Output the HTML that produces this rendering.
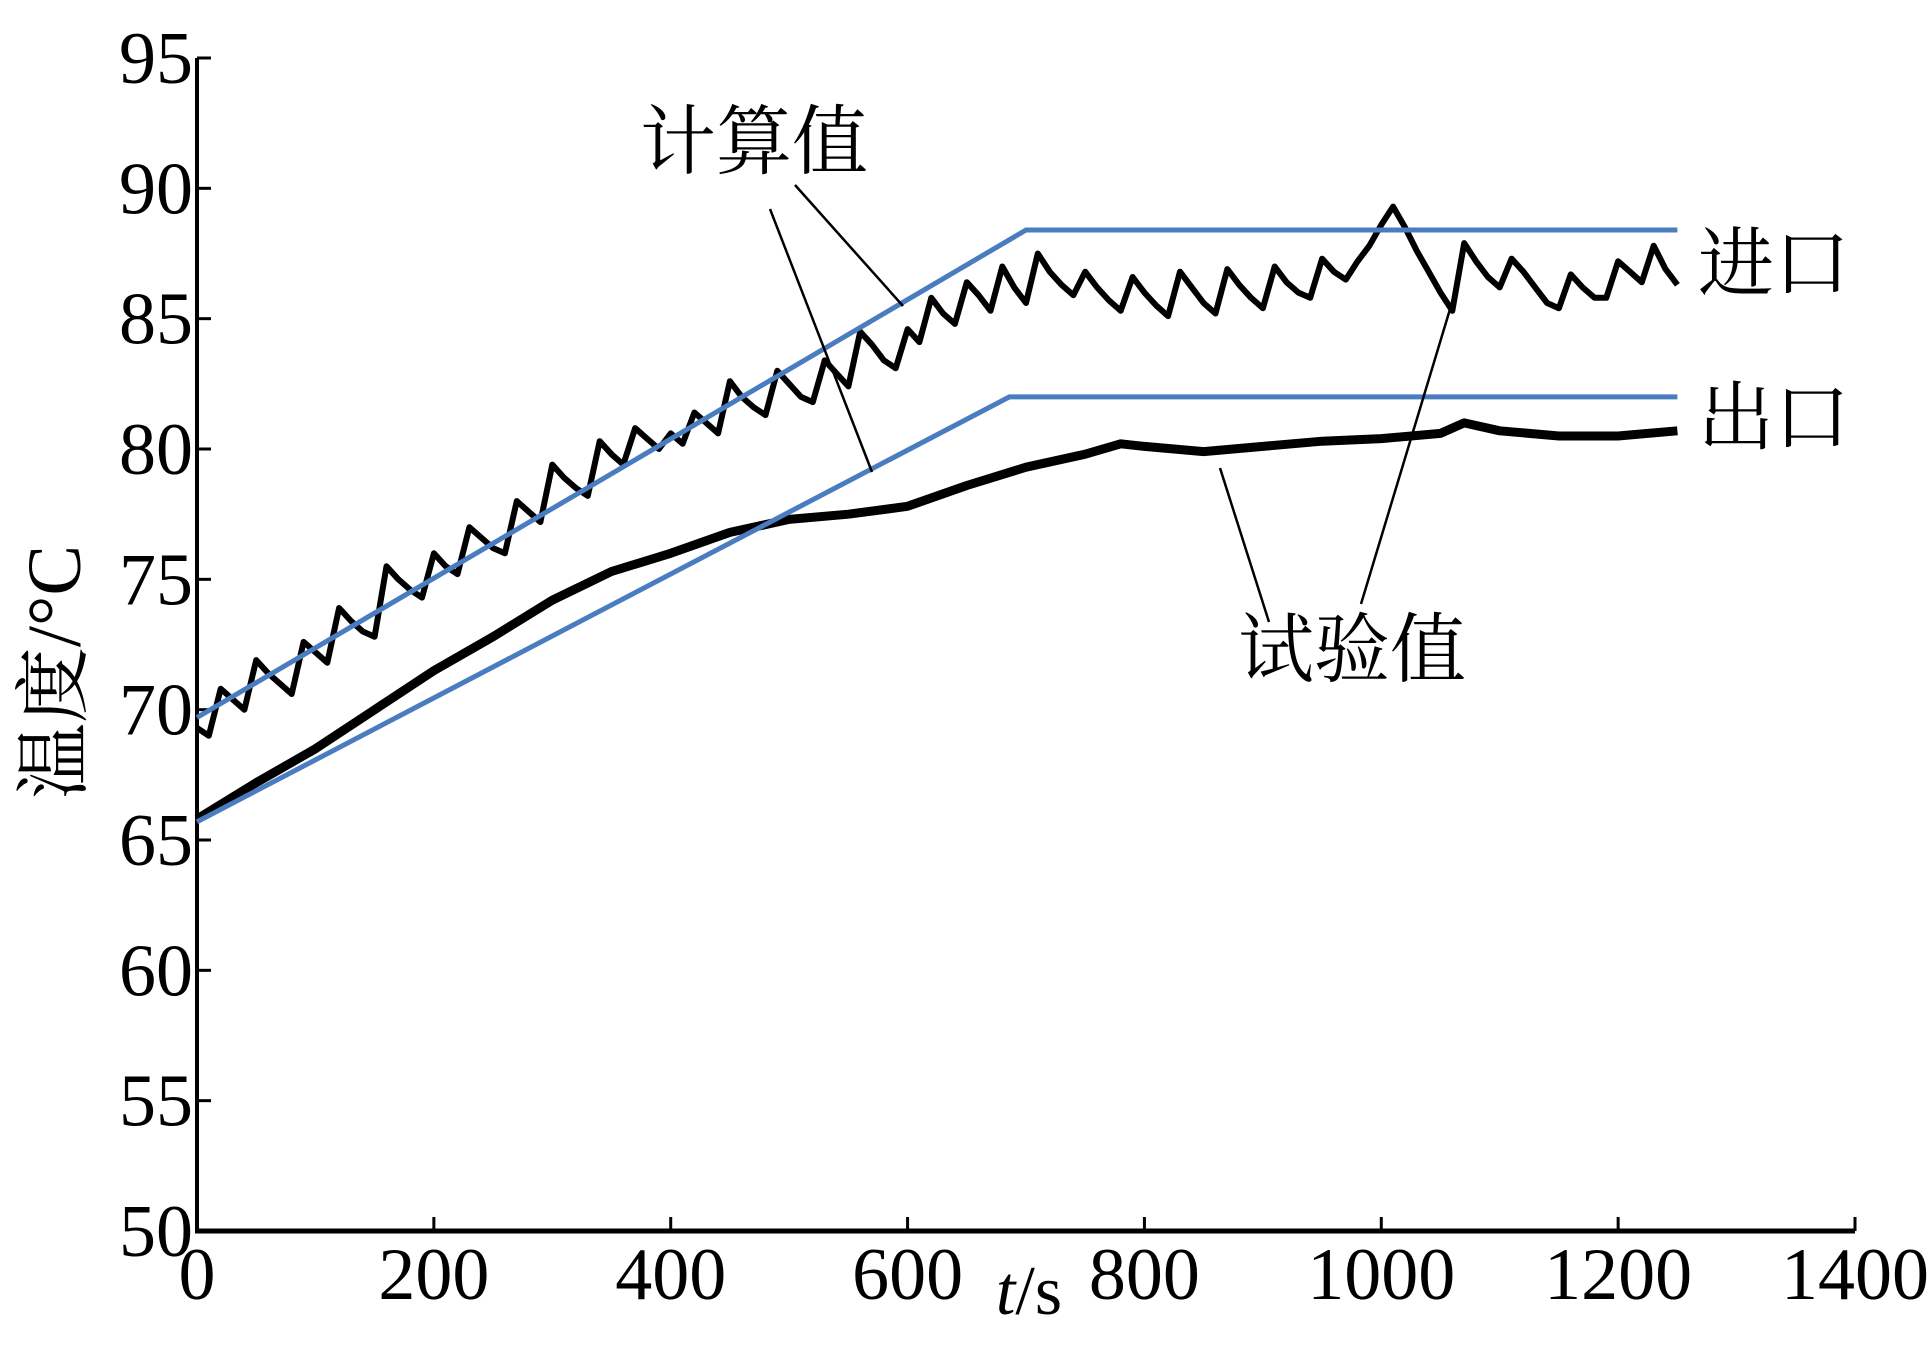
<!DOCTYPE html>
<html><head><meta charset="utf-8"><style>
html,body{margin:0;padding:0;background:#fff;}
svg{display:block;}
text{font-family:"Liberation Serif","Noto Serif CJK SC",serif;fill:#000;}
</style></head><body>
<svg id="chart" width="1932" height="1368" viewBox="0 0 1932 1368" xmlns="http://www.w3.org/2000/svg">
<g id="axes"></g>
<g id="series"></g>
<g id="notes"></g>
</svg>
<script>
const xTicks=[0,200,400,600,800,1000,1200,1400];
const yTicks=[50,55,60,65,70,75,80,85,90,95];
const calcInletT=[0,700,1250];
const calcInletV=[69.7,88.4,88.4];
const calcOutletT=[0,686,1250];
const calcOutletV=[65.7,82.0,82.0];
const testInletT=[0,10,20,30,40,50,60,70,80,90,100,110,120,130,140,150,160,170,180,190,200,210,220,230,240,250,260,270,280,290,300,310,320,330,340,350,360,370,380,390,400,410,420,430,440,450,460,470,480,490,500,510,520,530,540,550,560,570,580,590,600,610,620,630,640,650,660,670,680,690,700,710,720,730,740,750,760,770,780,790,800,810,820,830,840,850,860,870,880,890,900,910,920,930,940,950,960,970,980,990,1000,1010,1020,1030,1040,1050,1060,1070,1080,1090,1100,1110,1120,1130,1140,1150,1160,1170,1180,1190,1200,1210,1220,1230,1240,1250];
const testInletV=[69.3,69.0,70.8,70.4,70.0,71.9,71.4,71.0,70.6,72.6,72.2,71.8,73.9,73.4,73.0,72.8,75.5,75.0,74.6,74.3,76.0,75.5,75.2,77.0,76.6,76.2,76.0,78.0,77.6,77.2,79.4,78.9,78.5,78.2,80.3,79.8,79.4,80.8,80.4,80.0,80.6,80.2,81.4,81.0,80.6,82.6,82.0,81.6,81.3,83.0,82.5,82.0,81.8,83.4,82.9,82.4,84.5,84.0,83.4,83.1,84.6,84.1,85.8,85.2,84.8,86.4,85.9,85.3,87.0,86.2,85.6,87.5,86.8,86.3,85.9,86.8,86.2,85.7,85.3,86.6,86.0,85.5,85.1,86.8,86.2,85.6,85.2,86.9,86.3,85.8,85.4,87.0,86.4,86.0,85.8,87.3,86.8,86.5,87.2,87.8,88.6,89.3,88.5,87.6,86.8,86.0,85.3,87.9,87.2,86.6,86.2,87.3,86.8,86.2,85.6,85.4,86.7,86.2,85.8,85.8,87.2,86.8,86.4,87.8,86.9,86.3];
const testOutletT=[0,50,100,150,200,250,300,350,400,450,500,550,600,650,700,750,780,800,850,900,950,1000,1050,1070,1100,1150,1200,1250];
const testOutletV=[65.8,67.2,68.5,70.0,71.5,72.8,74.2,75.3,76.0,76.8,77.3,77.5,77.8,78.6,79.3,79.8,80.2,80.1,79.9,80.1,80.3,80.4,80.6,81.0,80.7,80.5,80.5,80.7];

const X0=197,X1=1855,Y0=1231,Y1=58;
const sx=t=>X0+(t-0)/(1400-0)*(X1-X0);
const sy=v=>Y0-(v-50)/(95-50)*(Y0-Y1);
const NS='http://www.w3.org/2000/svg';
function mk(tag,attrs,parent){const e=document.createElementNS(NS,tag);for(const k in attrs)e.setAttribute(k,attrs[k]);parent.appendChild(e);return e;}
const axes=document.getElementById('axes'),series=document.getElementById('series'),notes=document.getElementById('notes');

let e=mk('line',{x1:X0,y1:Y1,x2:X0,y2:Y0+2,stroke:'#000','stroke-width':4},axes);

e=mk('line',{x1:X0-2,y1:Y0,x2:X1,y2:Y0,stroke:'#000','stroke-width':5},axes);

xTicks.forEach(t=>{
 let tk=mk('line',{x1:sx(t),y1:Y0,x2:sx(t),y2:Y0-14,stroke:'#000','stroke-width':3},axes);
 
 let lb=mk('text',{x:sx(t),y:Y0+68,'text-anchor':'middle','font-size':74},axes);
 lb.textContent=t;
 
});
yTicks.forEach(v=>{
 let tk=mk('line',{x1:X0,y1:sy(v),x2:X0+14,y2:sy(v),stroke:'#000','stroke-width':3},axes);
 
 let lb=mk('text',{x:X0-4,y:sy(v)+25,'text-anchor':'end','font-size':74},axes);
 lb.textContent=v;
 
});
let xl=mk('text',{x:1029,y:1314,'text-anchor':'middle','font-size':70},axes);
xl.innerHTML='<tspan font-style="italic">t</tspan>/s';

let yl=mk('text',{x:0,y:0,'text-anchor':'middle','font-size':76,transform:'translate(80,672) rotate(-90)'},axes);
yl.textContent='温度/°C';


function path(T,V){return T.map((t,i)=>(i?'L':'M')+sx(t).toFixed(1)+','+sy(V[i]).toFixed(1)).join(' ');}
let p=mk('path',{d:path(testOutletT,testOutletV),fill:'none',stroke:'#000','stroke-width':9,'stroke-linejoin':'round'},series);

p=mk('path',{d:path(testInletT,testInletV),fill:'none',stroke:'#000','stroke-width':6,'stroke-linejoin':'round'},series);

p=mk('path',{d:path(calcInletT,calcInletV),fill:'none',stroke:'#4a7cc0','stroke-width':5},series);

p=mk('path',{d:path(calcOutletT,calcOutletV),fill:'none',stroke:'#4a7cc0','stroke-width':5},series);


const leaders=[[795,185,903,306],[770,209,872,472],[1269,622,1220,468],[1361,604,1454,296]];
leaders.forEach(l=>{let ln=mk('line',{x1:l[0],y1:l[1],x2:l[2],y2:l[3],stroke:'#000','stroke-width':2.5},notes);
 });
const labels=[['计算值',640,168,'calc-label'],['试验值',1238,676,'test-label'],['进口',1698,290,'inlet-label'],['出口',1698,444,'outlet-label']];
labels.forEach(a=>{let t=mk('text',{x:a[1],y:a[2],'font-size':76},notes);t.textContent=a[0];
 });
</script>
</body></html>
